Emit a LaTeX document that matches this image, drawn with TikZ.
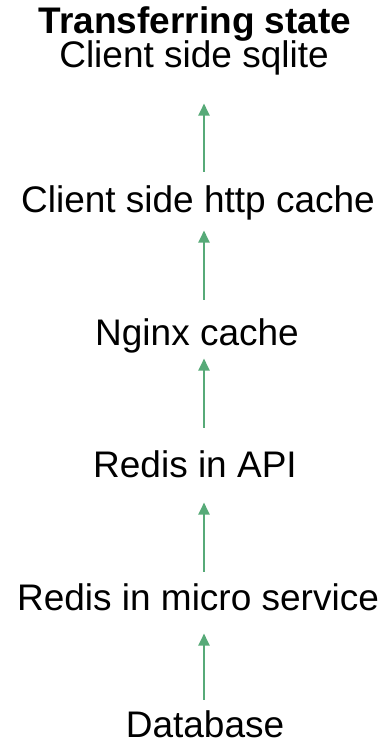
\documentclass[tikz,border=0pt]{standalone}
\usepackage{fontspec}
\setmainfont{Liberation Sans}
\usetikzlibrary{arrows.meta}
\definecolor{flowgreen}{RGB}{87,170,120}
\tikzset{
  basic/.style = {font=\fontsize{18.5}{22}\selectfont, inner sep=0pt,
                  anchor=base, text height=14pt, text depth=4.6pt},
  title/.style = {basic, font=\fontsize{18.5}{22}\selectfont\bfseries},
  layer/.style = {basic},
  flow/.style  = {draw=flowgreen, line width=1pt,
                  -{Triangle[length=6pt,width=5.6pt]}}
}
\begin{document}
\begin{tikzpicture}[x=0.5pt, y=-0.5pt]
\useasboundingbox (0,0) rectangle (382,744);

% heading and the top layer
\node[title] (head)   at (195,33) {Transferring state};
\node[layer] (sqlite) at (194,67) {Client side sqlite};

% the layers further down, placed on their base lines
\node[layer] (http)  at (198,212) {Client side http cache};
\node[layer] (nginx) at (197,345) {Nginx cache};
\node[layer] (api)   at (195,477) {Redis in API};
\node[layer] (micro) at (198,610) {Redis in micro service};
\node[layer] (db)    at (205,737) {Database};

% column in which the arrows run
\coordinate (ax) at (204,0);

% arrows from each layer up to the one above it
\foreach \lo/\hi/\a/\b in {http/sqlite/6pt/13.5pt, nginx/http/8.5pt/4.5pt,
                           api/nginx/10.5pt/2pt, micro/api/5pt/8pt,
                           db/micro/4.5pt/7pt}
  \draw[flow, shorten <=\a, shorten >=\b] (\lo.north -| ax) -- (\hi.south -| ax);

\end{tikzpicture}
\end{document}
